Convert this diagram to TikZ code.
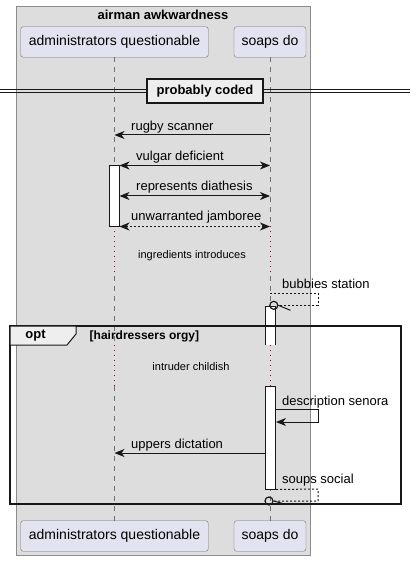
\documentclass[tikz,border=0pt]{standalone}
\usepackage{fontspec}
\setmainfont{Liberation Sans}
\usetikzlibrary{arrows.meta}
\definecolor{boxgray}{HTML}{DDDDDD}
\definecolor{boxline}{HTML}{8C8C8C}
\definecolor{partfill}{HTML}{E2E2F0}
\definecolor{partline}{HTML}{707070}
\definecolor{delayred}{HTML}{A80036}
\definecolor{tabgray}{HTML}{EEEEEE}
\definecolor{ink}{HTML}{181818}
\tikzset{
    participant/.style={draw=partline, fill=partfill, rounded corners=2.5bp, inner sep=0pt,
        minimum height=30.5bp, font=\fontsize{14bp}{16bp}\selectfont},
    lifeline/.style={draw=partline, line width=0.7bp, dash pattern=on 5bp off 5bp},
    delay/.style={draw=delayred, line width=1bp, dash pattern=on 1bp off 4bp},
    message/.style={draw=ink, line width=1bp},
    reply/.style={message, dash pattern=on 2bp off 2bp},
    activation/.style={draw=ink, fill=white, line width=1bp, inner sep=0pt, minimum width=10bp},
    lostend/.style={circle, draw=ink, line width=1.2bp, inner sep=0pt, minimum size=8bp},
    msglabel/.style={anchor=base west, inner sep=0pt, font=\fontsize{13bp}{15bp}\selectfont},
    note/.style={inner sep=0pt, font=\fontsize{11bp}{13bp}\selectfont},
    boldlabel/.style={inner sep=0pt, font=\bfseries\fontsize{13bp}{15bp}\selectfont}
}

\begin{document}
\begin{tikzpicture}[x=1bp, y=-1bp, >={Stealth[length=10bp, width=8bp, inset=3bp]}]
\useasboundingbox (0,0) rectangle (416,561);
% box round the participants
\draw[fill=boxgray, draw=boxline] (16,6) rectangle (310,555.5);
\node[boldlabel] (boxtitle) at (163,15) {airman awkwardness};
% participants
\node[participant, minimum width=187.5bp] (top-adm) at (114.5,42) {administrators questionable};
\node[participant, minimum width=72bp] (top-soaps) at (270,42) {soaps do};
\node[participant, minimum width=187.5bp] (bot-adm) at (114.5,536) {administrators questionable};
\node[participant, minimum width=72bp] (bot-soaps) at (270,536) {soaps do};
% lifelines with the two delays
\foreach \p in {adm,soaps}{
  \draw[lifeline] (top-\p) -- (top-\p |- 0,226) (top-\p |- 0,276) -- (top-\p |- 0,345)
    (top-\p |- 0,386) -- (bot-\p);
  \draw[delay] (top-\p |- 0,226) -- (top-\p |- 0,276) (top-\p |- 0,345) -- (top-\p |- 0,386);
}
% divider
\draw[draw=ink, line width=1bp] (0,89.5) -- (410,89.5) (0,92.5) -- (410,92.5);
\node[boldlabel, draw=ink, line width=2bp, fill=tabgray, minimum width=116bp, minimum height=24bp]
  (divider) at (205,90.8) {probably coded};
% activations
\node[activation, minimum height=60bp] (act-adm) at (114,196) {};
\fill[white] (265.5,306) rectangle (275.5,345);
\draw[draw=ink, line width=1bp] (265.5,345) -- (265.5,306) -- (275.5,306) -- (275.5,345);
\node[activation, minimum height=103bp] (act-soaps) at (270.5,437.5) {};
% messages
\draw[message, ->] (top-soaps |- 0,135) -- (top-adm |- 0,135);
\node[msglabel] (lbl-rugby) at (131,130.5) {rugby scanner};
\draw[message, <->] (act-adm.north east) -- (top-soaps |- act-adm.north);
\node[msglabel] (lbl-vulgar) at (136,161) {vulgar deficient};
\draw[message, <->] (act-adm.east) -- (top-soaps |- act-adm.east);
\node[msglabel] (lbl-represents) at (136,191) {represents diathesis};
\draw[reply, <->] (act-adm.south east) -- (top-soaps |- act-adm.south);
\node[msglabel] (lbl-unwarranted) at (131,221) {unwarranted jamboree};
\node[note] (note-ingredients) at (192,256) {ingredients introduces};
% lost self message
\node[lostend] (lost-a) at (273.8,305.3) {};
\draw[reply] (top-soaps |- 0,293) -- (318,293) -- (318,305.3) -- (lost-a);
\draw[message] (lost-a.east) -- ++(12,5);
\node[msglabel] (lbl-bubbies) at (282,288) {bubbies station};
% opt group
\draw[draw=ink, line width=2bp] (10,326) rectangle (401,504);
\draw[draw=ink, fill=tabgray, line width=1bp] (10,326) -- (76,326) -- (76,334) -- (67,345) -- (10,345) -- cycle;
\node[boldlabel] (opt-tab) at (35.5,336) {opt};
\node[boldlabel, anchor=west, font=\bfseries\fontsize{12bp}{14bp}\selectfont] (opt-guard) at (89.5,336) {[hairdressers orgy]};
\node[note] (note-intruder) at (191,367) {intruder childish};
\draw[message, ->] (act-soaps.east |- 0,409) -- (318,409) -- (318,422) -- (act-soaps.east |- 0,422);
\node[msglabel] (lbl-description) at (282,405) {description senora};
\draw[message, ->] (act-soaps.west |- 0,453) -- (top-adm |- 0,453);
\node[msglabel] (lbl-uppers) at (131,448) {uppers dictation};
\node[lostend] (lost-b) at (269,501) {};
\draw[reply] (act-soaps.south east) -- (318,489) -- (318,501) -- (lost-b);
\draw[message] (lost-b.east) -- ++(11,3);
\node[msglabel] (lbl-soups) at (282,483) {soups social};
\end{tikzpicture}
\end{document}
